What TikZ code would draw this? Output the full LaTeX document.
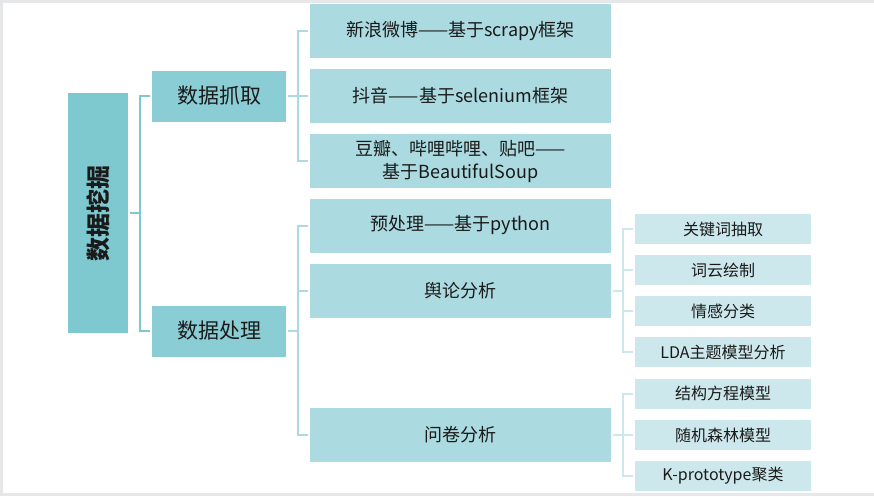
\documentclass[tikz,border=0pt]{standalone}
\usepackage{fontspec}
\setmainfont{Noto Sans CJK SC}
\definecolor{frame}{HTML}{E6E7E9}
\definecolor{cRoot}{HTML}{7EC8D0}
\definecolor{cL2}{HTML}{8BCDD5}
\definecolor{cL3}{HTML}{ABDAE0}
\definecolor{cL4}{HTML}{CDE8EC}
\definecolor{txt}{HTML}{1A1A1A}
\tikzset{
  box/.style={rectangle, inner sep=0pt, text=txt, align=center},
  rootbox/.style={box, fill=cRoot, minimum width=60pt, minimum height=240pt, font=\fontsize{24}{28}\selectfont\bfseries},
  lvtwo/.style={box, fill=cL2, minimum width=134pt, minimum height=51pt, font=\fontsize{21}{25}\selectfont},
  lvthree/.style={box, fill=cL3, minimum width=301pt, minimum height=54pt, font=\fontsize{18}{23}\selectfont},
  lvfour/.style={box, fill=cL4, minimum width=176pt, minimum height=30pt, font=\fontsize{16}{19}\selectfont},
  conn/.style={line width=2pt, shorten <=2pt, shorten >=2pt},
}
\begin{document}
\begin{tikzpicture}[x=1pt,y=-1pt]
\fill[frame] (0,0) rectangle (874,496);
\fill[white] (3,3) rectangle (874,493);
\useasboundingbox (0,0) rectangle (874,496);

\node[rootbox] (root) at (98,213) {\rotatebox{90}{数据挖掘}};

\node[lvtwo] (crawl) at (219,96) {数据抓取};
\node[lvtwo] (proc) at (219,331) {数据处理};

\node[lvthree] (wb) at (460.5,31) {新浪微博——基于scrapy框架};
\node[lvthree] (dy) at (460.5,96) {抖音——基于selenium框架};
\node[lvthree] (db) at (460.5,161) {豆瓣、哔哩哔哩、贴吧——\\基于BeautifulSoup};
\node[lvthree] (pre) at (460.5,225.5) {预处理——基于python};
\node[lvthree] (yl) at (460.5,290.5) {舆论分析};
\node[lvthree] (wj) at (460.5,434.5) {问卷分析};

\node[lvfour] (k1) at (723,229) {关键词抽取};
\node[lvfour] (k2) at (723,270) {词云绘制};
\node[lvfour] (k3) at (723,311) {情感分类};
\node[lvfour] (k4) at (723,352) {LDA主题模型分析};
\node[lvfour] (k5) at (723,393.5) {结构方程模型};
\node[lvfour] (k6) at (723,435) {随机森林模型};
\node[lvfour] (k7) at (723,476) {K-prototype聚类};

\foreach \c in {crawl,proc}
  \draw[conn, cRoot] (root.east) -- ++(12,0) |- (\c.west);
\foreach \c in {wb,dy,db}
  \draw[conn, cL3] (crawl.east) -- ++(12,0) |- (\c.west);
\foreach \c in {pre,yl,wj}
  \draw[conn, cL3] (proc.east) -- ++(12,0) |- (\c.west);
\foreach \c in {k1,k2,k3,k4}
  \draw[conn, cL4] (yl.east) -- ++(12,0) |- (\c.west);
\foreach \c in {k5,k6,k7}
  \draw[conn, cL4] (wj.east) -- ++(12,0) |- (\c.west);
\end{tikzpicture}
\end{document}
